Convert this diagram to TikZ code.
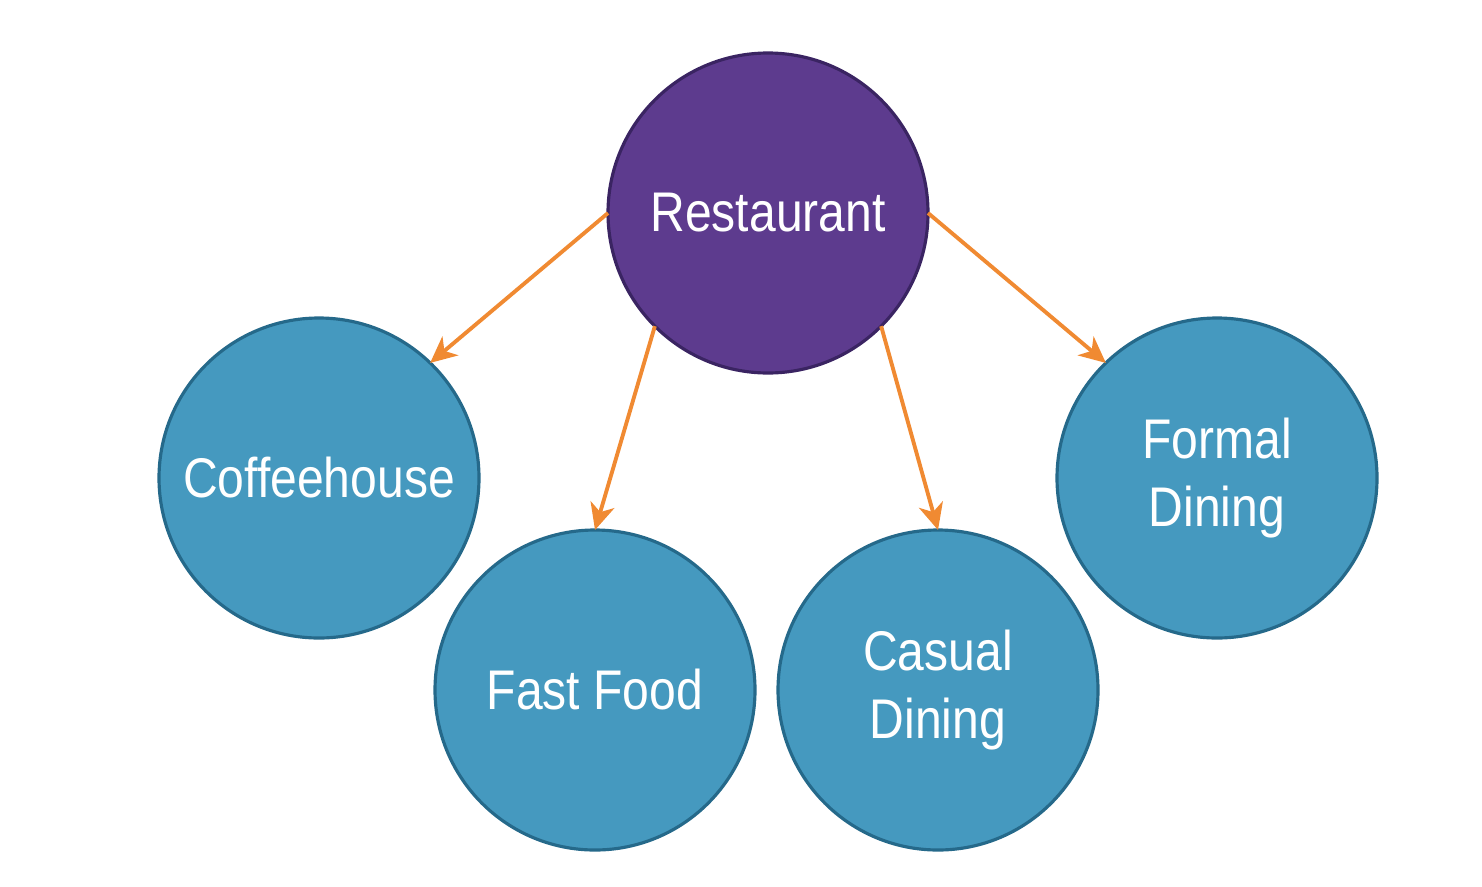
\documentclass[tikz,border=0pt]{standalone}
\usepackage{fontspec}
\setmainfont{Liberation Sans}[FakeStretch=0.86]
\usetikzlibrary{arrows.meta}

\definecolor{hubpurple}{HTML}{5D3B8E}
\definecolor{hubedge}{HTML}{3A2462}
\definecolor{leafblue}{HTML}{4599BF}
\definecolor{leafedge}{HTML}{25698A}
\definecolor{arroworange}{HTML}{F08A32}

\begin{document}
\begin{tikzpicture}[>={Stealth[length=7.5pt,width=7pt,inset=2.2pt]},thick,
    base node/.style={circle,minimum size=3.2cm,inner sep=0pt,outer sep=0pt,line width=0.9pt,text=white,align=center,font=\fontsize{15.9}{19.4}\selectfont},
    hub node/.style={base node,fill=hubpurple,draw=hubedge},
    leaf node/.style={base node,fill=leafblue,draw=leafedge},
    link/.style={draw,->,color=arroworange,line width=1.1pt}]
    \useasboundingbox (0,0) rectangle (14.82,-8.86);

    \node[hub node] (rest) at (7.68,-2.13) {Restaurant};
    \node[leaf node] (coffee) at (3.19,-4.78) {Coffeehouse};
    \node[leaf node] (fast) at (5.95,-6.90) {Fast Food};
    \node[leaf node] (casual) at (9.38,-6.90) {Casual\\Dining};
    \node[leaf node] (formal) at (12.17,-4.78) {Formal\\Dining};

    \path[every edge/.style={link}]
        (rest.180) edge (coffee.46)
        (rest.225) edge (fast.90)
        (rest.315) edge (casual.90)
        (rest.0) edge (formal.134);
\end{tikzpicture}
\end{document}
